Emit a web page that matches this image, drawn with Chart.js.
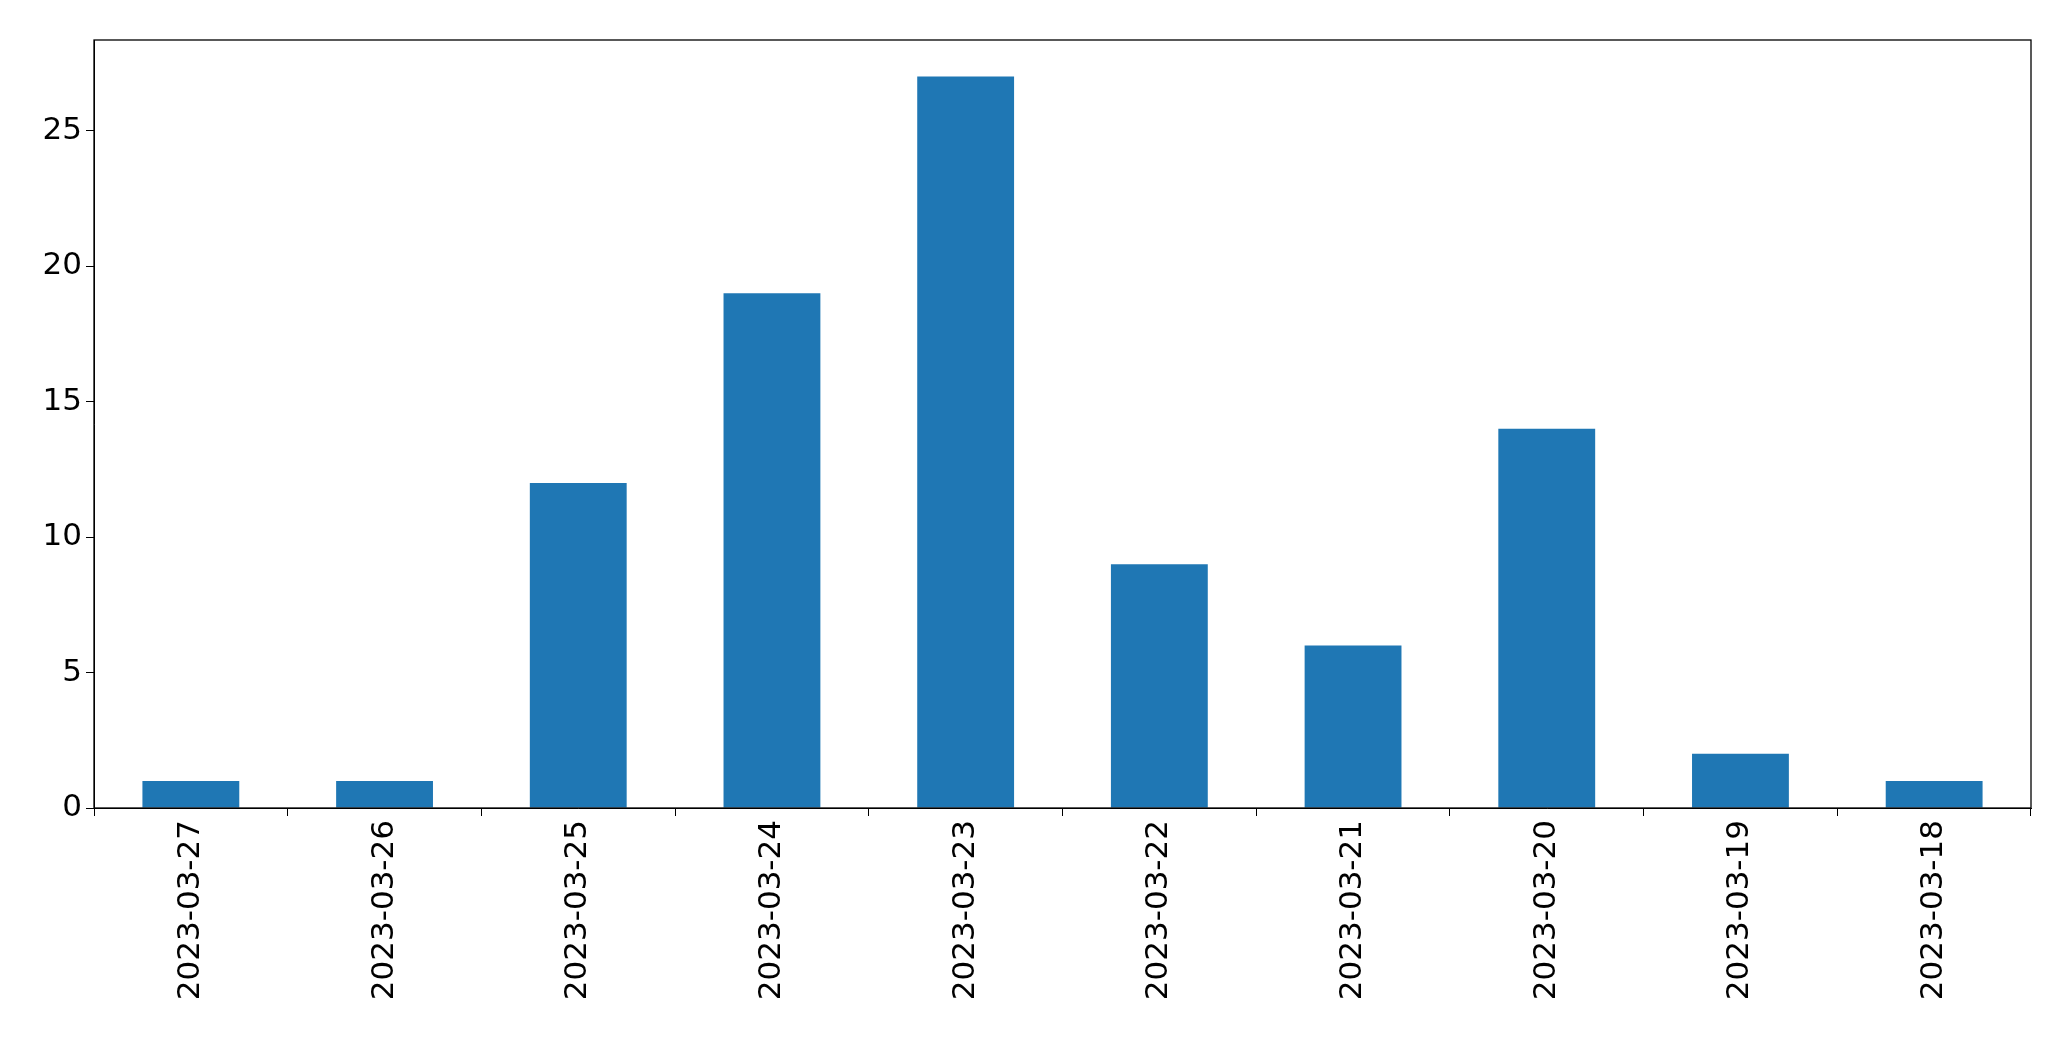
<!DOCTYPE html>
<html>
<head>
<script src="https://cdn.jsdelivr.net/npm/chart.js@4"></script>
<style>
  html, body { margin: 0; padding: 0; background: #fff; }
  #wrap { width: 2071px; height: 1061px; }
</style>
</head>
<body>
<div id="wrap"><canvas id="bar-chart"></canvas></div>
<script>
var dates = ["2023-03-27", "2023-03-26", "2023-03-25", "2023-03-24", "2023-03-23",
             "2023-03-22", "2023-03-21", "2023-03-20", "2023-03-19", "2023-03-18"];
var counts = [1, 1, 12, 19, 27, 9, 6, 14, 2, 1];
var yTicks = [0, 5, 10, 15, 20, 25];

// box around the plot area, like matplotlib's frame
var frame = {
  id: 'frame',
  afterDraw: function(chart) {
    var a = chart.chartArea, c = chart.ctx;
    c.save();
    c.strokeStyle = '#000';
    c.lineWidth = 1.3;
    c.strokeRect(a.left, a.top, a.right - a.left, a.bottom - a.top);
    c.restore();
  }
};

var ctx = document.getElementById("bar-chart");
new Chart(ctx, {
  type: 'bar',
  data: {
    labels: dates,
    datasets: [{
      data: counts,
      backgroundColor: '#1f77b4',
      barPercentage: 0.5,
      categoryPercentage: 1.0
    }]
  },
  options: {
    responsive: true,
    maintainAspectRatio: false,
    animation: false,
    layout: { padding: { top: 40, right: 40, left: 0, bottom: 0 } },
    plugins: { legend: { display: false }, tooltip: { enabled: false } },
    scales: {
      x: {
        grid: { drawOnChartArea: false, color: '#000', tickLength: 8 },
        border: { color: '#000' },
        ticks: {
          color: '#000', maxRotation: 90, minRotation: 90, padding: 4,
          font: { family: 'DejaVu Sans', size: 31 }
        },
        afterFit: function(s) { s.height = 253; }
      },
      y: {
        min: 0,
        max: 28.35,
        afterBuildTicks: function(s) { s.ticks = yTicks.map(function(v) { return { value: v }; }); },
        grid: { drawOnChartArea: false, color: '#000', tickLength: 8 },
        border: { color: '#000' },
        ticks: {
          color: '#000', padding: 4,
          font: { family: 'DejaVu Sans', size: 31 }
        },
        afterFit: function(s) { s.width = 94; }
      }
    }
  },
  plugins: [frame]
});
</script>
</body>
</html>
